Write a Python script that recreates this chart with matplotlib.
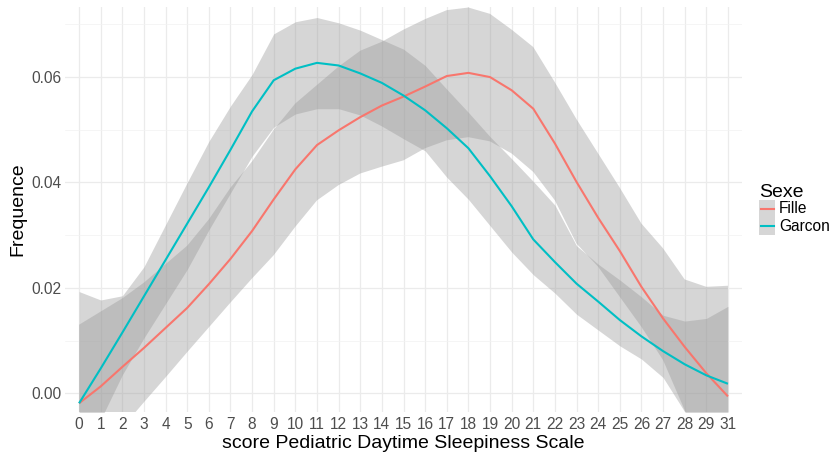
import matplotlib
matplotlib.use('Agg')
import matplotlib.pyplot as plt
import numpy as np
from matplotlib.patches import Rectangle
from matplotlib.lines import Line2D

plt.rcParams['font.family'] = ['Liberation Sans', 'DejaVu Sans']

# score categories (30 is absent from the data)
score_labels = [str(k) for k in range(30)] + ['31']

garcon = [-0.0019, 0.0047, 0.0115, 0.0184, 0.0253, 0.0322, 0.0391, 0.0462, 0.0535, 0.0594,
          0.0616, 0.0627, 0.0622, 0.0607, 0.0589, 0.0565, 0.0537, 0.0503, 0.0465, 0.0412,
          0.0355, 0.0292, 0.0249, 0.0208, 0.0174, 0.0139, 0.0108, 0.0080, 0.0055, 0.0034, 0.0018]
garcon_upper = [0.0193, 0.0177, 0.0185, 0.0240, 0.0320, 0.0400, 0.0478, 0.0545, 0.0605, 0.0682,
                0.0705, 0.0713, 0.0703, 0.0689, 0.0671, 0.0653, 0.0622, 0.0577, 0.0533, 0.0487,
                0.0445, 0.0402, 0.0357, 0.0280, 0.0245, 0.0215, 0.0183, 0.0148, 0.0137, 0.0142, 0.0165]
garcon_lower = [-0.0120, -0.0050, 0.0035, 0.0105, 0.0170, 0.0235, 0.0310, 0.0380, 0.0450, 0.0505,
                0.0530, 0.0540, 0.0540, 0.0528, 0.0507, 0.0483, 0.0460, 0.0410, 0.0368, 0.0318,
                0.0268, 0.0225, 0.0190, 0.0150, 0.0120, 0.0090, 0.0065, 0.0030, -0.0035, -0.0080, -0.0110]

fille = [-0.0019, 0.0013, 0.0050, 0.0086, 0.0124, 0.0162, 0.0207, 0.0255, 0.0308, 0.0368,
         0.0425, 0.0471, 0.0499, 0.0524, 0.0546, 0.0563, 0.0582, 0.0602, 0.0608, 0.0600,
         0.0575, 0.0540, 0.0474, 0.0401, 0.0333, 0.0270, 0.0202, 0.0142, 0.0088, 0.0038, -0.0006]
fille_upper = [0.0130, 0.0155, 0.0180, 0.0210, 0.0245, 0.0280, 0.0330, 0.0390, 0.0440, 0.0500,
               0.0550, 0.0585, 0.0620, 0.0650, 0.0667, 0.0690, 0.0710, 0.0727, 0.0732, 0.0720,
               0.0690, 0.0657, 0.0590, 0.0520, 0.0455, 0.0390, 0.0322, 0.0275, 0.0216, 0.0202, 0.0204]
fille_lower = [-0.0160, -0.0110, -0.0065, -0.0017, 0.0030, 0.0078, 0.0125, 0.0172, 0.0218, 0.0262,
               0.0316, 0.0366, 0.0395, 0.0417, 0.0430, 0.0442, 0.0465, 0.0480, 0.0486, 0.0478,
               0.0455, 0.0420, 0.0366, 0.0284, 0.0240, 0.0183, 0.0126, 0.0063, -0.0032, -0.0100, -0.0160]

series = [('Fille', fille, fille_lower, fille_upper, '#F8766D'),
          ('Garcon', garcon, garcon_lower, garcon_upper, '#00BFC4')]

W, H = 836, 454
fig = plt.figure(figsize=(W / 100, H / 100), dpi=100)
ax = fig.add_axes([65 / W, 1 - 411.7 / H, (742 - 65) / W, (411.7 - 7) / H])

x = np.arange(len(score_labels))

for name, mid, lo, hi, col in series:
    ax.fill_between(x, lo, hi, color='#999999', alpha=0.4, linewidth=0, zorder=2)
for name, mid, lo, hi, col in series:
    ax.plot(x, mid, color=col, lw=1.5, zorder=3, solid_capstyle='butt')

ax.set_xlim(-0.65, len(score_labels) - 1 + 0.65)
ax.set_ylim(-0.0035, 0.0733)
ax.set_xticks(x)
ax.set_xticklabels(score_labels)
ax.set_yticks([0.0, 0.02, 0.04, 0.06])
ax.set_yticklabels(['0.00', '0.02', '0.04', '0.06'])
ax.set_yticks([0.01, 0.03, 0.05, 0.07], minor=True)

ax.grid(which='major', color='#ebebeb', lw=0.9, zorder=0)
ax.grid(which='minor', axis='y', color='#f2f2f2', lw=0.5, zorder=0)
ax.set_axisbelow(True)
for s in ax.spines.values():
    s.set_visible(False)
ax.tick_params(which='both', length=0)
ax.tick_params(axis='x', pad=4, labelsize=11.2, labelcolor='#4d4d4d')
ax.tick_params(axis='y', pad=2.5, labelsize=11.2, labelcolor='#4d4d4d')

fig.text(18 / W, 1 - 209 / H, 'Frequence', rotation=90, ha='center', va='center',
         fontsize=14, color='black')
fig.text(403.5 / W, 1 - 448 / H, 'score Pediatric Daytime Sleepiness Scale',
         ha='center', va='baseline', fontsize=14, color='black')

# legend
fig.text(759 / W, 1 - 197 / H, 'Sexe', ha='left', va='baseline', fontsize=14)
key_top = 200
key_h = 17.5
for k, (name, mid, lo, hi, col) in enumerate(series):
    y0 = key_top + k * key_h
    fig.patches.append(Rectangle((759 / W, 1 - (y0 + key_h) / H), 16 / W, key_h / H,
                                 transform=fig.transFigure, facecolor='#d6d6d6',
                                 edgecolor='none'))
    yc = 1 - (y0 + key_h / 2) / H
    fig.lines.append(Line2D([760.5 / W, 774 / W], [yc, yc], transform=fig.transFigure,
                            color=col, lw=1.5))
    fig.text(779 / W, yc, name, ha='left', va='center', fontsize=11.2)

fig.savefig('out.png', dpi=100)
